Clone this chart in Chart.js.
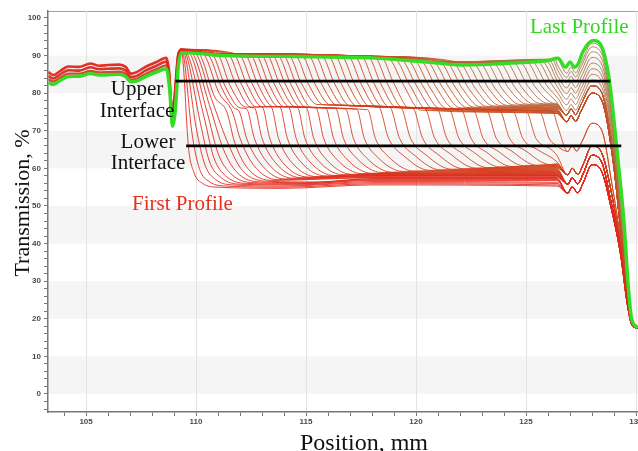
<!DOCTYPE html>
<html><head><meta charset="utf-8">
<script src="https://cdn.jsdelivr.net/npm/chart.js@4.4.1/dist/chart.umd.min.js"></script>
<style>
html,body{margin:0;padding:0;background:#fff;}
#wrap{position:relative;width:638px;height:451px;overflow:hidden;background:#fff;}
#c{position:absolute;left:0;top:0;}
.lbl{position:absolute;font-family:'Liberation Serif','Times New Roman',serif;white-space:nowrap;color:#111;}
</style></head><body>
<div id="wrap">
<canvas id="c" width="638" height="451"></canvas>
<div class="lbl" style="left:77px;top:77px;width:120px;text-align:center;font-size:21px;line-height:22px;">Upper<br>Interface</div>
<div class="lbl" style="left:88px;top:131px;width:120px;text-align:center;font-size:21px;line-height:21px;">Lower<br>Interface</div>
<div class="lbl" style="left:132px;top:192px;font-size:21px;line-height:22px;color:#e8301e;">First Profile</div>
<div class="lbl" style="left:530px;top:15px;font-size:21px;line-height:22px;color:#2fd81f;">Last Profile</div>
<div class="lbl" style="left:264px;top:430px;width:200px;text-align:center;font-size:24px;line-height:24px;">Position, mm</div>
<div class="lbl" style="left:-78px;top:191px;width:200px;text-align:center;font-size:22px;line-height:24px;transform:rotate(-90deg);">Transmission, %</div>
</div>
<script>
// ---- axes ----
const positionRange = [103.27, 130.09];
const transmissionRange = [-4.79, 101.86];
const xTickValues = [104,105,106,107,108,109,110,111,112,113,114,115,116,117,118,119,120,121,122,123,124,125,126,127,128,129,130];
const yTickValues = [-4,-2,0,2,4,6,8,10,12,14,16,18,20,22,24,26,28,30,32,34,36,38,40,42,44,46,48,50,52,54,56,58,60,62,64,66,68,70,72,74,76,78,80,82,84,86,88,90,92,94,96,98,100];
const shadedBands = [[0,10],[20,30],[40,50],[60,70],[80,90]];

// ---- interface markers ----
const upperInterface = [[109.06,83.2],[128.83,83.2]];
const lowerInterface = [[109.55,66.0],[129.33,66.0]];

// ---- left part of the profiles (103.3 - 109.3 mm) ----
const leftBandTop = [[103.3,85.6],[103.5,84.8],[103.8,85.8],[104.2,87.1],[104.7,87.0],[105.2,87.9],[105.6,87.3],[106.0,87.5],[106.5,87.6],[106.8,87.0],[107.05,85.2],[107.3,85.6],[107.7,87.0],[108.2,88.3],[108.65,89.4],[108.78,85.5],[108.9,75.5],[109.02,79],[109.18,90],[109.3,91.7]];
const leftBandMid = [[103.3,84.6],[103.5,83.9],[103.8,84.9],[104.2,86.1],[104.7,86.0],[105.2,86.9],[105.6,86.4],[106.0,86.5],[106.5,86.6],[106.8,86.0],[107.05,84.3],[107.3,84.6],[107.7,86.0],[108.2,87.3],[108.65,88.4],[108.78,84.2],[108.9,74.2],[109.02,78],[109.18,89.6],[109.3,91.4]];
const leftBandLow = [[103.3,83.7],[103.5,83.1],[103.8,84.0],[104.2,85.2],[104.7,85.2],[105.2,85.9],[105.6,85.5],[106.0,85.6],[106.5,85.7],[106.8,85.1],[107.05,83.6],[107.3,83.8],[107.7,85.1],[108.2,86.4],[108.65,87.4],[108.78,83],[108.9,73.2],[109.02,77],[109.18,89],[109.3,91.1]];

// ---- right ends of the profiles (126.8 - 130.1 mm), by level ----
const tailBottomLow  = [[126.9,53.4],[127.1,55.1],[127.35,53.5],[127.6,56.2],[128.0,61],[128.45,59],[128.85,50],[129.3,37],[129.6,24],[129.8,18.5],[130.09,17.4]];
const tailBottomMid  = [[126.9,55.8],[127.1,57.5],[127.35,55.9],[127.6,58.6],[128.0,63.5],[128.45,61.5],[128.85,51.5],[129.3,38],[129.6,24.5],[129.8,18.7],[130.09,17.5]];
const tailBottomHigh = [[126.9,58.3],[127.1,60],[127.35,58.4],[127.6,61.1],[128.0,66],[128.45,64],[128.9,53],[129.3,39],[129.6,25],[129.8,19],[130.09,17.5]];
const tailLowerMiddle = [[126.9,64.5],[127.1,66],[127.3,64.6],[127.55,67.2],[128.0,72],[128.45,70],[128.9,56],[129.3,41],[129.6,26],[129.8,19.3],[130.09,17.6]];
const tailMiddleLow = [[126.85,72.4],[127.05,74],[127.25,72.5],[127.5,75.2],[128.0,80],[128.45,78],[128.95,62.3],[129.28,44.7],[129.58,27.8],[129.78,20],[130.09,17.8]];
const tailMiddleHigh = [[126.85,74.2],[127.05,75.8],[127.25,74.3],[127.5,77],[128.0,82],[128.45,80],[128.95,63.8],[129.28,45.3],[129.58,28],[129.78,20],[130.09,17.8]];
const tails = {bot1:tailBottomLow, bot2:tailBottomMid, bot3:tailBottomHigh, lowmid:tailLowerMiddle, midlo:tailMiddleLow, midhi:tailMiddleHigh, own:[]};

// ---- intermediate profiles, first to last ----
const profiles = [
{t:'bot1',p:[[109.3,91.7],[109.4,89],[109.65,66],[109.9,59],[110.3,56],[111,55],[114,54.7],[118,55.6],[126.4,55.3]]},
{t:'bot1',p:[[109.3,91.7],[109.45,89.5],[109.8,70],[110.15,60],[110.6,56.5],[111.4,55.3],[114,55.0],[118,55.9],[126.4,55.6]]},
{t:'bot1',p:[[109.3,91.7],[109.5,90],[110.0,71],[110.4,61],[110.9,57],[111.7,55.6],[114,55.3],[118,56.2],[126.4,56.0]]},
{t:'bot1',p:[[109.3,91.7],[109.55,90.3],[110.2,72],[110.6,62],[111.15,57.5],[112,55.8],[114.5,55.6],[118,56.5],[126.4,56.3]]},
{t:'bot1',p:[[109.3,91.7],[109.6,90.5],[110.35,74],[110.8,63],[111.35,58],[112.3,56],[114.5,55.8],[118,56.8],[126.4,56.8]]},
{t:'bot1',p:[[109.3,91.7],[109.7,90.7],[110.5,75],[111.0,64],[111.6,58.5],[112.6,56.2],[115,56],[118,57],[126.4,57]]},
{t:'bot1',p:[[109.3,91.7],[109.8,90.8],[110.6,77],[111.25,65],[111.85,59],[112.9,56.4],[115,56.2],[118,57.2],[126.4,57.2]]},
{t:'bot1',p:[[109.3,91.7],[109.95,90.8],[110.7,78.5],[111.5,66],[112.1,59.5],[113.2,56.6],[115.5,56.4],[118,57.3],[126.4,57.3]]},
{t:'bot1',p:[[109.3,91.7],[110.1,90.7],[110.85,79],[111.4,75],[111.75,67],[112.35,60],[113.5,56.8],[118,57.5],[126.4,57.5]]},
{t:'bot2',p:[[109.3,91.7],[110.3,90.6],[111.05,80],[111.65,75],[112.0,68],[112.6,61],[113.7,57],[118,57.6],[126.4,57.6]]},
{t:'bot2',p:[[109.3,91.7],[110.5,90.5],[111.2,81],[111.75,76],[111.95,75.3],[112.3,68],[112.9,61.5],[114,57.2],[118,57.8],[126.4,57.8]]},
{t:'bot2',p:[[109.3,91.7],[110.7,90.5],[111.35,81.5],[112.0,76.1],[112.3,75.8],[112.65,68],[113.25,61.5],[114.4,57.4],[118,58],[126.4,58]]},
{t:'bot2',p:[[109.3,91.7],[110.95,90.45],[111.55,82],[112.25,76.3],[112.65,76.1],[113.0,68],[113.6,61.6],[114.8,57.5],[118,58.1],[126.4,58.1]]},
{t:'bot2',p:[[109.3,91.7],[111.2,90.4],[111.8,82.5],[112.5,76.3],[113.0,76.4],[113.35,68],[113.95,61.5],[115.1,57.7],[118,58],[126.4,58.2]]},
{t:'bot2',p:[[109.3,91.7],[111.45,90.4],[112.05,82.5],[112.75,76.3],[113.4,76.4],[113.75,68],[114.35,61.6],[115.5,57.8],[118,58.1],[126.4,58.1]]},
{t:'bot2',p:[[109.3,91.7],[111.7,90.35],[112.3,82.5],[113.0,76.4],[113.8,76.4],[114.15,68],[114.75,61.8],[115.9,58],[118,58.3],[126.4,58.3]]},
{t:'bot2',p:[[109.3,91.7],[111.95,90.3],[112.55,82.5],[113.25,76.4],[114.2,76.4],[114.55,68],[115.15,61.9],[116.3,58.1],[118,58.4],[126.4,58.4]]},
{t:'bot2',p:[[109.3,91.7],[111,90.5],[112.2,90.3],[112.8,82.5],[113.5,76.4],[114.6,76.3],[114.95,68],[115.55,62.1],[116.7,58.3],[118,58.6],[126.4,58.6]]},
{t:'bot2',p:[[109.3,91.7],[111,90.5],[112.45,90.25],[113.05,82.5],[113.75,76.4],[115.0,76.2],[115.35,68],[115.95,62.2],[117.1,58.4],[126.4,58.7]]},
{t:'bot2',p:[[109.3,91.7],[111,90.5],[112.7,90.2],[113.3,82.5],[114.0,76.4],[115.45,76.1],[115.8,68],[116.4,62.4],[117.55,58.6],[126.4,58.9]]},
{t:'bot2',p:[[109.3,91.5],[111,90.5],[112.95,90.2],[113.55,82.5],[114.25,76.4],[115.9,76],[116.25,68],[116.85,62.5],[118.0,58.7],[126.4,59]]},
{t:'bot2',p:[[109.3,91.5],[111,90.5],[113.2,90.2],[113.8,82.5],[114.5,76.4],[116.35,75.9],[116.7,68],[117.3,62.7],[118.45,58.9],[126.4,59.2]]},
{t:'bot2',p:[[109.3,91.5],[111,90.5],[113.45,90.15],[114.05,82.5],[114.75,76.3],[116.8,75.8],[117.15,68],[117.75,62.8],[118.9,59],[126.4,59.3]]},
{t:'bot2',p:[[109.3,91.5],[111,90.5],[113.7,90.1],[114.3,82.5],[115.0,76.2],[117.3,75.7],[117.65,68],[118.25,63],[119.4,59.2],[126.4,59.5]]},
{t:'bot2',p:[[109.3,91.5],[111,90.5],[113.95,90.1],[114.55,82.5],[115.25,76.2],[117.8,75.6],[118.15,68],[118.75,63.1],[119.9,59.3],[126.4,59.6]]},
{t:'bot2',p:[[109.3,91.5],[111,90.5],[114.2,90.1],[114.8,82.5],[115.5,77],[118.3,76.3],[118.75,68],[119.45,63.3],[120.6,59.5],[126.4,59.8]]},
{t:'bot2',p:[[109.3,91.5],[111,90.5],[114.5,90.05],[115.1,82.5],[115.8,76.9],[118.8,76.3],[119.25,68],[119.95,63.4],[121.1,59.6],[126.4,59.9]]},
{t:'bot3',p:[[109.3,91.5],[111,90.5],[114.8,90.0],[115.4,82.5],[116.1,76.9],[119.3,76.2],[119.75,68],[120.45,63.6],[121.6,59.8],[126.4,60.1]]},
{t:'bot3',p:[[109.3,91.5],[111,90.5],[115.1,90.0],[115.7,82.5],[116.4,76.8],[119.85,76.0],[120.3,68],[121.0,63.7],[122.15,59.9],[126.4,60.2]]},
{t:'bot3',p:[[109.3,91.5],[111,90.5],[115.4,90.0],[116.0,82.5],[116.7,76.7],[120.4,75.9],[120.85,68],[121.55,63.9],[122.7,60.1],[126.4,60.4]]},
{t:'bot3',p:[[109.3,91.5],[111,90.5],[115.7,89.95],[116.3,82.5],[117.0,76.6],[120.95,75.8],[121.4,68],[122.1,64],[123.25,60.2],[126.4,60.5]]},
{t:'bot3',p:[[109.3,91.5],[111,90.5],[116.0,89.9],[116.6,82.5],[117.3,76.6],[121.5,75.7],[121.95,68],[122.65,64.2],[123.8,60.4],[126.4,60.7]]},
{t:'bot3',p:[[109.3,91.5],[111,90.5],[116.3,89.9],[116.9,82.5],[117.6,76.5],[122.05,75.6],[122.5,68],[123.2,64.3],[124.35,60.5],[126.4,60.8]]},
{t:'bot3',p:[[109.3,91.5],[111,90.5],[116.6,89.9],[117.2,82.5],[117.9,76.4],[122.6,75.5],[123.05,68],[123.75,64.5],[124.9,60.7],[126.4,61]]},
{t:'bot3',p:[[109.3,91.5],[111,90.5],[116.9,89.9],[117.5,82.5],[118.2,76.4],[123.2,75.4],[123.65,68],[124.35,64.6],[125.5,60.8],[126.4,61.1]]},
{t:'bot3',p:[[109.3,91.5],[111,90.5],[117.2,89.85],[117.8,82.5],[118.5,76.3],[123.8,75.3],[124.25,68],[124.95,64.8],[126.1,61],[126.4,61.2]]},
{t:'bot3',p:[[109.3,91.5],[111,90.5],[117.5,89.85],[118.1,82.5],[118.8,76.2],[124.4,75.2],[124.85,68],[125.55,64.9],[126.4,61.8]]},
{t:'bot3',p:[[109.3,91.5],[111,90.5],[117.8,89.8],[118.4,82.5],[119.1,76.2],[125.0,75.2],[125.45,68],[126.15,65],[126.4,63.5]]},
{t:'lowmid',p:[[109.3,91.5],[111,90.5],[118.1,89.7],[118.7,82.5],[119.4,76.1],[125.6,75.2],[126.05,68],[126.4,66]]},
{t:'lowmid',p:[[109.3,91.5],[111,90.5],[118.4,89.6],[119.0,82.5],[119.7,76],[126.2,75.3],[126.45,71]]},
{t:'midlo',p:[[109.3,91.3],[111,90.5],[118.7,89.45],[119.4,82.5],[120.2,75.5],[126.4,74.6]]},
{t:'midlo',p:[[109.3,91.3],[111,90.5],[119.0,89.3],[119.7,82.3],[120.5,75.6],[126.4,74.7]]},
{t:'midlo',p:[[109.3,91.3],[111,90.5],[118,89.8],[119.3,89.15],[120.0,82.2],[120.8,75.7],[126.4,74.8]]},
{t:'midlo',p:[[109.3,91.3],[111,90.5],[118,89.8],[119.6,89.0],[120.3,82],[121.1,75.8],[126.4,75.0]]},
{t:'midlo',p:[[109.3,91.3],[111,90.5],[118,89.8],[119.9,88.85],[120.6,81.8],[121.4,75.9],[126.4,75.1]]},
{t:'midlo',p:[[109.3,91.3],[111,90.5],[118,89.8],[120.2,88.7],[120.9,81.7],[121.7,76.0],[126.4,75.2]]},
{t:'midlo',p:[[109.3,91.3],[111,90.5],[118,89.8],[120.5,88.5],[121.2,81.6],[122.0,76.1],[126.4,75.3]]},
{t:'midlo',p:[[109.3,91.3],[111,90.5],[118,89.8],[120.8,88.3],[121.5,81.5],[122.3,76.2],[126.4,75.5]]},
{t:'midlo',p:[[109.3,91.3],[111,90.5],[118,89.8],[121.1,88.2],[121.8,81.4],[122.6,76.3],[126.4,75.6]]},
{t:'midlo',p:[[109.3,91.3],[111,90.5],[118,89.8],[121.4,88.0],[122.1,81.3],[122.9,76.4],[126.4,75.7]]},
{t:'midlo',p:[[109.3,91.3],[111,90.5],[118,89.8],[121.7,87.9],[122.4,81.2],[123.2,76.5],[126.4,75.8]]},
{t:'midhi',p:[[109.3,91.3],[111,90.5],[118,89.8],[122.0,87.8],[122.7,81.2],[123.5,76.6],[126.4,76.0]]},
{t:'midhi',p:[[109.3,91.3],[111,90.5],[118,89.8],[122.3,87.8],[123.0,81.2],[123.8,76.7],[126.4,76.1]]},
{t:'midhi',p:[[109.3,91.3],[111,90.5],[118,89.8],[121,88.2],[122.6,87.85],[123.3,81.2],[124.1,76.8],[126.4,76.2]]},
{t:'midhi',p:[[109.3,91.3],[111,90.5],[118,89.8],[121,88.2],[122.9,87.9],[123.6,81.2],[124.4,76.9],[126.4,76.4]]},
{t:'midhi',p:[[109.3,91.3],[111,90.5],[118,89.8],[121,88.2],[123.2,87.95],[123.9,81.3],[124.7,77.0],[126.4,76.5]]},
{t:'midhi',p:[[109.3,91.3],[111,90.5],[118,89.8],[121,88.2],[123.5,88.0],[124.2,81.4],[125.0,77.1],[126.4,76.6]]},
{t:'midhi',p:[[109.3,91.3],[111,90.5],[118,89.8],[121,88.2],[123.8,88.05],[124.5,81.5],[125.3,77.2],[126.4,76.8]]},
{t:'midhi',p:[[109.3,91.3],[111,90.5],[118,89.8],[121,88.2],[124.1,88.15],[124.8,81.6],[125.6,77.3],[126.4,76.9]]},
{t:'midhi',p:[[109.3,91.3],[111,90.5],[118,89.8],[121,88.2],[124.4,88.2],[125.1,81.7],[125.9,77.4],[126.4,77.0]]},
{t:'midhi',p:[[109.3,91.3],[111,90.5],[118,89.8],[121,88.2],[124.7,88.3],[125.4,81.8],[126.2,77.4],[126.4,77.2]]},
{t:'midhi',p:[[109.3,91.3],[111,90.5],[118,89.8],[121,88.2],[125.0,88.4],[125.7,81.9],[126.4,77.6]]},
{t:'own',p:[[109.3,91.3],[111,90.5],[118,89.8],[121,88.2],[125.25,88.45],[125.95,82],[126.45,78.6],[126.85,75.4],[127.05,77],[127.25,75.5],[127.5,78.2],[128.0,83.5],[128.45,81.5],[128.95,65.6],[129.3,46.2],[129.6,27.6],[129.8,20],[130.09,17.8]]},
{t:'own',p:[[109.3,91.3],[111,90.5],[118,89.8],[121,88.2],[125.5,88.5],[126.15,82.5],[126.45,80],[126.85,76.9],[127.05,78.5],[127.25,77],[127.5,79.7],[128.0,85],[128.45,83],[128.95,66.8],[129.3,46.6],[129.6,27.6],[129.8,20],[130.09,17.8]]},
{t:'own',p:[[109.3,91.3],[111,90.5],[118,89.8],[121,88.2],[125.7,88.6],[126.3,83],[126.45,81.5],[126.85,78.4],[127.05,80],[127.25,78.5],[127.5,81.2],[128.0,86.5],[128.45,84.5],[128.95,68],[129.3,47],[129.6,27.7],[129.8,20],[130.09,17.8]]},
{t:'own',p:[[109.3,91.3],[111,90.5],[118,89.8],[121,88.2],[125.9,88.7],[126.45,83],[126.85,79.9],[127.05,81.5],[127.25,80],[127.5,82.7],[128.0,88],[128.45,86],[128.95,69.2],[129.3,47.5],[129.6,27.8],[129.8,20],[130.09,17.8]]},
{t:'own',p:[[109.3,91.3],[111,90.5],[118,89.8],[121,88.2],[126.05,88.8],[126.45,84.5],[126.85,81.4],[127.05,83],[127.25,81.5],[127.5,84.2],[128.0,89.5],[128.45,87.5],[128.95,70.4],[129.3,48],[129.6,27.8],[129.8,20],[130.09,17.8]]},
{t:'own',p:[[109.3,91.3],[111,90.5],[118,89.8],[121,88.2],[126.2,88.9],[126.45,86],[126.85,82.9],[127.05,84.5],[127.25,83],[127.5,85.7],[128.0,91],[128.45,89],[128.95,71.6],[129.33,48.3],[129.62,27.8],[129.8,20],[130.09,17.8]]},
{t:'own',p:[[109.3,91.3],[111,90.5],[118,89.8],[121,88.2],[126.3,89],[126.45,87.3],[126.85,84.2],[127.05,85.8],[127.25,84.3],[127.5,87],[128.0,92.3],[128.45,90.3],[128.95,72.6],[129.35,48.5],[129.63,27.8],[129.8,20],[130.09,17.8]]},
{t:'own',p:[[109.3,91.3],[111,90.5],[118,89.8],[121,88.2],[126.4,89.1],[126.85,85.3],[127.05,86.9],[127.25,85.4],[127.5,88],[128.0,93.3],[128.45,91.3],[128.95,73.4],[129.37,48.7],[129.64,27.8],[129.8,20],[130.09,17.8]]}
];

// ---- last profile ----
const lastProfile = [[103.3,82.8],[103.5,82.3],[103.8,83.3],[104.2,84.4],[104.7,84.5],[105.2,85.2],[105.6,84.8],[106.0,84.9],[106.5,85.0],[106.8,84.4],[107.05,83.0],[107.3,83.2],[107.7,84.4],[108.2,85.6],[108.65,86.5],[108.8,81],[108.93,71.2],[109.05,75],[109.2,87.5],[109.35,90.8],[110,90.6],[111,90.1],[112,89.9],[113,89.8],[114,89.8],[115,89.7],[116,89.6],[117,89.5],[118,89.4],[119,89],[120,88.5],[121,88],[122,87.5],[123,87.6],[124,87.9],[125,88.2],[126,88.7],[126.45,89.3],[126.8,86.9],[127.0,88.3],[127.2,86.9],[127.35,87.6],[127.6,91.2],[128.05,94.0],[128.3,93.6],[128.55,90.5],[128.8,83],[129.15,64],[129.45,46],[129.65,28.5],[129.8,20],[130.09,17.6]];

// ---- styling ----
const colorStops = [[0,[228,38,28]],[0.55,[204,72,30]],[1,[170,120,78]]];
function profileColor(i, n){
  const t = i/(n-1);
  let a = colorStops[0], b = colorStops[1];
  if (t > colorStops[1][0]) { a = colorStops[1]; b = colorStops[2]; }
  const f = (t - a[0])/(b[0] - a[0]);
  const c = a[1].map((v,j)=>Math.round(v + (b[1][j]-v)*f));
  return `rgba(${c[0]},${c[1]},${c[2]},0.88)`;
}
const xy = arr => arr.map(p => ({x:p[0], y:p[1]}));

const datasets = [];
datasets.push({data: xy(upperInterface), borderColor:'#000', borderWidth:2.6, cubicInterpolationMode:'default', tension:0});
datasets.push({data: xy(lowerInterface), borderColor:'#000', borderWidth:2.6, cubicInterpolationMode:'default', tension:0});
datasets.push({data: xy(lastProfile), borderColor:'#33dd22', borderWidth:3.4});
profiles.forEach((pr, i) => {
  datasets.push({data: xy(pr.p.concat(tails[pr.t])), borderColor: profileColor(i, profiles.length), borderWidth:1.0});
});
datasets.push({data: xy(leftBandTop), borderColor:'rgba(226,36,26,0.95)', borderWidth:2.6});
datasets.push({data: xy(leftBandMid), borderColor:'rgba(214,44,28,0.95)', borderWidth:2.6});
datasets.push({data: xy(leftBandLow), borderColor:'rgba(196,60,36,0.9)', borderWidth:2.4});

const bandPlugin = {
  id:'bands',
  beforeDraw(chart){
    const {ctx, chartArea:a, scales:{x, y}} = chart;
    ctx.save();
    ctx.fillStyle = '#f5f5f5';
    shadedBands.forEach(([lo, hi]) => {
      const y1 = y.getPixelForValue(hi), y2 = y.getPixelForValue(lo);
      ctx.fillRect(a.left, y1, a.right - a.left, y2 - y1);
    });
    ctx.strokeStyle = '#a0a0a0'; ctx.lineWidth = 1;
    ctx.beginPath(); ctx.moveTo(a.left, a.top + 0.5); ctx.lineTo(a.right, a.top + 0.5); ctx.stroke();
    ctx.restore();
  }
};

new Chart(document.getElementById('c'), {
  type:'line',
  data:{datasets},
  options:{
    responsive:false, maintainAspectRatio:false, animation:false, events:[],
    layout:{padding:{top:11, right:0, bottom:0, left:0}},
    elements:{point:{radius:0}, line:{cubicInterpolationMode:'monotone', borderJoinStyle:'round'}},
    plugins:{legend:{display:false}, tooltip:{enabled:false}, title:{display:false}},
    scales:{
      x:{type:'linear', min:positionRange[0], max:positionRange[1],
        afterBuildTicks:s => { s.ticks = xTickValues.map(v => ({value:v})); },
        afterFit:s => { s.height = 39; s.paddingLeft = 0; s.paddingRight = 0; },
        ticks:{autoSkip:false, maxRotation:0, padding:1, color:'#4a4a4a', font:{family:'Liberation Sans', size:8, weight:'bold'},
          callback:v => (v % 5 === 0 ? String(v) : '')},
        grid:{color:c => (c.tick && c.tick.value % 5 === 0 ? '#e3e3e3' : 'rgba(0,0,0,0)'), tickColor:'#777', tickLength:4, lineWidth:1},
        border:{color:'#777', width:1.5}
      },
      y:{type:'linear', min:transmissionRange[0], max:transmissionRange[1],
        afterBuildTicks:s => { s.ticks = yTickValues.map(v => ({value:v})); },
        afterFit:s => { s.width = 48; },
        ticks:{autoSkip:false, padding:3, color:'#4a4a4a', font:{family:'Liberation Sans', size:8, weight:'bold'},
          callback:v => (v % 10 === 0 && v >= 0 ? String(v) : '')},
        grid:{color:'rgba(0,0,0,0)', tickColor:'#777', tickLength:4},
        border:{color:'#777', width:1.5}
      }
    }
  },
  plugins:[bandPlugin]
});
</script>
</body></html>
